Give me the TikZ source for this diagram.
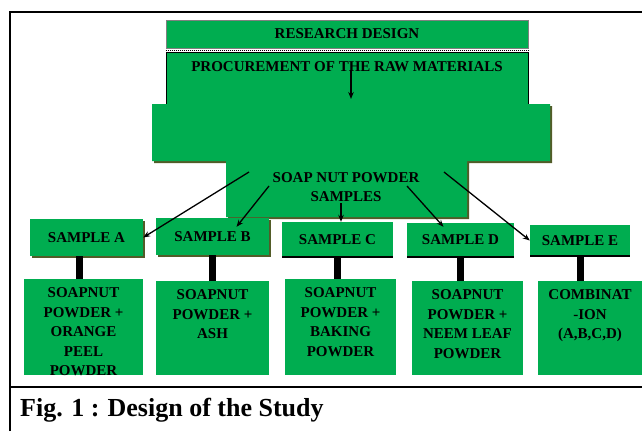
\documentclass[tikz,border=0pt]{standalone}
\usepackage{fontspec}
\setmainfont{Liberation Serif}
\usepackage{xcolor}
\usetikzlibrary{arrows.meta, positioning, calc}

\definecolor{boxgreen}{RGB}{0,173,80}
\definecolor{shadowolive}{RGB}{82,92,40}

\begin{document}
\begin{tikzpicture}[x=1pt, y=-1pt,
    % Node styles
    topbox/.style={rectangle, fill=boxgreen, inner sep=0pt, minimum width=362pt, font=\fontsize{15}{18}\selectfont\bfseries},
    samplebox/.style={rectangle, fill=boxgreen, inner sep=0pt, font=\fontsize{15}{18}\selectfont\bfseries},
    lowbox/.style={rectangle, fill=boxgreen, inner sep=0pt},
    lowtext/.style={anchor=north, inner sep=0pt, align=center, font=\fontsize{15}{19.5}\selectfont\bfseries},
    shadowed/.style={preaction={fill=shadowolive, transform canvas={xshift=2pt, yshift=-2pt}}},
    edged/.style={path picture={\draw[black, line width=2.4pt] (path picture bounding box.south west) -- (path picture bounding box.south east);}},
    myarrow/.style={-{Stealth[length=7pt, width=5.5pt]}, line width=1.3pt, black},
    mybar/.style={line width=7pt, black},
    frameline/.style={line width=2.6pt, black}
]
\useasboundingbox (0,0) rectangle (642,431);

% Frame and caption rule
\draw[frameline] (10,431) -- (10,12) -- (642,12);
\draw[frameline] (10,387) -- (642,387);

% === TOP ===
\node[topbox, draw=gray, minimum height=28pt] (rd) at (347,34) {RESEARCH DESIGN};
\draw[densely dotted, line width=1pt] ([yshift=-2pt]rd.south west) -- ([yshift=-2pt]rd.south east);
\node[topbox, draw=black, minimum height=53pt, text depth=23.5pt] (proc) at (347,78.5) {PROCUREMENT OF THE RAW MATERIALS};
\coordinate (p1) at (351,70);
\coordinate (p2) at (351,99);
\draw[myarrow] (p1) -- (p2);

% Soap nut powder (T shaped block)
\fill[boxgreen, shadowed] (152,104) -- (550,104) -- (550,161) -- (467,161) -- (467,217)
    -- (226,217) -- (226,161) -- (152,161) -- cycle;
\node[align=center, inner sep=0pt, font=\fontsize{15}{19}\selectfont\bfseries] (snp) at (346,187) {SOAP NUT POWDER\\SAMPLES};

% === SAMPLES ===
\node[samplebox, shadowed, minimum width=113pt, minimum height=37pt] (sA) at (86.5,237.5) {SAMPLE A};
\node[samplebox, shadowed, minimum width=113pt, minimum height=37pt] (sB) at (212.5,236.5) {SAMPLE B};
\node[samplebox, edged, minimum width=111pt, minimum height=35pt] (sC) at (337.5,239.5) {SAMPLE C};
\node[samplebox, edged, minimum width=107pt, minimum height=34pt] (sD) at (460.5,240) {SAMPLE D};
\node[samplebox, edged, minimum width=100pt, minimum height=31pt] (sE) at (580,240.5) {SAMPLE E};

% Arrows from the soap nut block
\coordinate (fA) at (249,172);
\coordinate (fB) at (269,186);
\coordinate (fC) at (341,203);
\coordinate (fD) at (407,186);
\coordinate (fE) at (444,172);
\draw[myarrow] (fA) -- (sA.east);
\draw[myarrow] (fB) -- ([shift={(24,9)}]sB.north);
\draw[myarrow] (fC) -- (fC |- sC.north);
\draw[myarrow] (fD) -- ([shift={(-17,4)}]sD.north);
\draw[myarrow] (fE) -- (sE.west);

% === MIXTURES ===
\node[lowbox, minimum width=119pt, minimum height=96pt] (pA) at (83.5,327) {};
\node[lowbox, minimum width=113pt, minimum height=94pt] (pB) at (212.5,328) {};
\node[lowbox, minimum width=111pt, minimum height=96pt] (pC) at (340.5,327) {};
\node[lowbox, minimum width=111pt, minimum height=94pt] (pD) at (467.5,328) {};
\node[lowbox, minimum width=104pt, minimum height=94pt] (pE) at (590,328) {};

\node[lowtext] (tA) at ([yshift=-9pt]pA.north) {SOAPNUT\\POWDER +\\ORANGE\\PEEL\\POWDER};
\node[lowtext] (tB) at ([yshift=-9pt]pB.north) {SOAPNUT\\POWDER +\\ASH};
\node[lowtext] (tC) at ([yshift=-9pt]pC.north) {SOAPNUT\\POWDER +\\BAKING\\POWDER};
\node[lowtext] (tD) at ([yshift=-9pt]pD.north) {SOAPNUT\\POWDER +\\NEEM LEAF\\POWDER};
\node[lowtext] (tE) at ([yshift=-9pt]pE.north) {COMBINAT\\-ION\\(A,B,C,D)};

% Bars between samples and mixtures
\draw[mybar] ([xshift=-7pt]sA.south) -- ([xshift=-7pt]sA.south |- pA.north);
\draw[mybar] (sB.south) -- (sB.south |- pB.north);
\draw[mybar] (sC.south) -- (sC.south |- pC.north);
\draw[mybar] (sD.south) -- (sD.south |- pD.north);
\draw[mybar] (sE.south) -- (sE.south |- pE.north);

% Caption
\node[anchor=base west, inner sep=0pt, font=\fontsize{26}{30}\selectfont\bfseries] (cap) at (20,416) {Fig. 1 :\hspace{8pt}Design of the Study};

\end{tikzpicture}
\end{document}
